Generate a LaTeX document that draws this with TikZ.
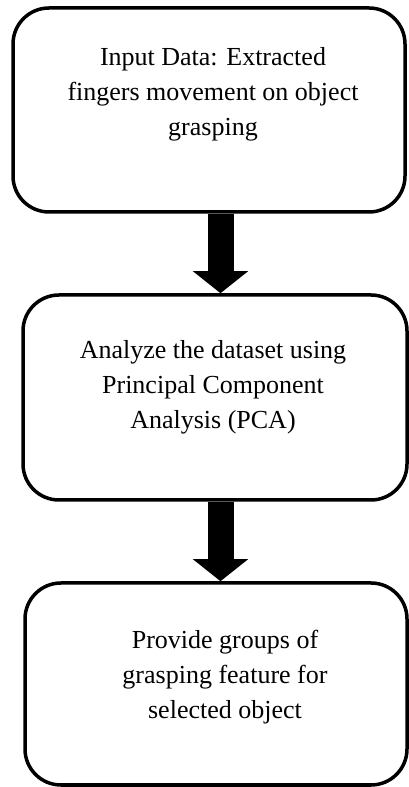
\documentclass[tikz,border=0pt]{standalone}
\usepackage{fontspec}
\setmainfont{Liberation Serif}
\usetikzlibrary{arrows.meta}
\begin{document}
\begin{tikzpicture}[x=1pt,y=1pt,
  box/.style={draw=black, line width=3.5pt, rounded corners=36pt, fill=white, inner sep=0pt},
  txt/.style={align=center, inner sep=0pt, font=\fontsize{26pt}{35pt}\selectfont},
  bigarrow/.style={line width=26pt, -{Triangle[width=54pt,length=22pt]}}]
\useasboundingbox (0,0) rectangle (409,787);
\node[box, minimum width=392pt, minimum height=204pt] (b1) at (209,677) {};
\node[box, minimum width=384pt, minimum height=205pt] (b2) at (215,389.5) {};
\node[box, minimum width=382pt, minimum height=202pt] (b3) at (216,103) {};
\node[txt] (t1) at (213,692.5) {Input Data: Extracted\\fingers movement on object\\grasping};
\node[txt] (t2) at (213,399.5) {Analyze the dataset using\\Principal Component\\Analysis (PCA)};
\node[txt] (t3) at (225,109.5) {Provide groups of\\grasping feature for\\selected object};
\coordinate (ax) at (220.5,0);
\draw[bigarrow] (b1.south -| ax) -- (b2.north -| ax);
\draw[bigarrow] (b2.south -| ax) -- (b3.north -| ax);
\end{tikzpicture}
\end{document}
